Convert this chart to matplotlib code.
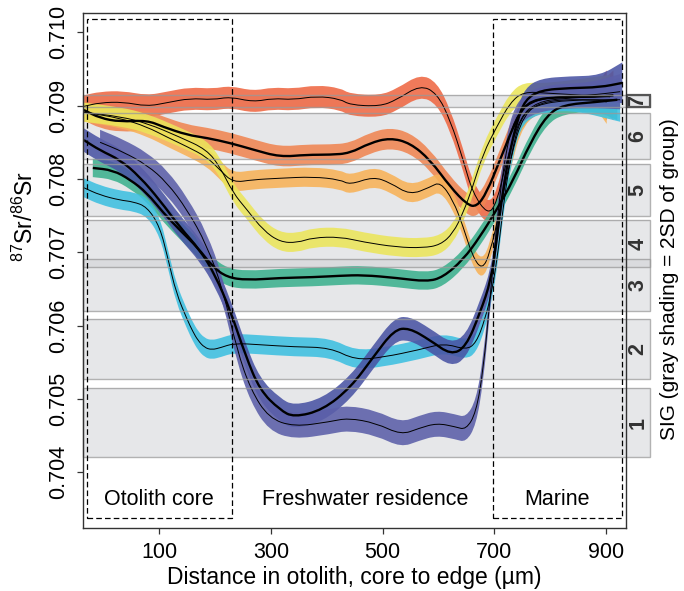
import numpy as np
import matplotlib
matplotlib.use('Agg')
import matplotlib.pyplot as plt
from matplotlib.patches import Rectangle, PathPatch
from matplotlib.path import Path

plt.rcParams['font.family'] = ['Liberation Sans', 'DejaVu Sans']
plt.rcParams['mathtext.default'] = 'regular'

# ---- data (distance in um, 87Sr/86Sr) ----
# group A: red, top curve (thin line)
xa = [-35, -6, 35, 78, 114, 155, 196, 227, 268, 304, 339, 382, 424, 441, 495, 525, 567, 597,
      621, 644, 661, 688, 704, 722, 746, 777, 823, 883, 901]
ya = [0.70899, 0.70904, 0.70905, 0.70899, 0.70904, 0.70910, 0.70908, 0.70912, 0.70905, 0.70910,
      0.70908, 0.70913, 0.70909, 0.70901, 0.70899, 0.70908, 0.70928, 0.70917, 0.70880, 0.70826,
      0.70781, 0.70751, 0.70767, 0.70826, 0.70885, 0.70905, 0.70910, 0.70912, 0.70914]

# group B: orange (thick line)
xb = [-35, -6, 30, 78, 107, 150, 185, 227, 268, 316, 364, 406, 441, 477, 513, 549, 585, 621,
      651, 668, 686, 710, 741, 764, 823, 883, 913]
yb = [0.70894, 0.70883, 0.70878, 0.70880, 0.70871, 0.70860, 0.70856, 0.70849, 0.70840, 0.70830,
      0.70833, 0.70833, 0.70835, 0.70849, 0.70856, 0.70849, 0.70826, 0.70789, 0.70765, 0.70762,
      0.70781, 0.70826, 0.70885, 0.70908, 0.70912, 0.70912, 0.70914]

# group C: light orange (thin line)
xc = [-35, 30, 78, 114, 150, 185, 209, 232, 268, 316, 375, 424, 441, 483, 513, 549, 585, 603,
      626, 644, 661, 678, 692, 710, 728, 752, 794, 883, 901]
yc = [0.70891, 0.70883, 0.70871, 0.70857, 0.70844, 0.70830, 0.70812, 0.70795, 0.70799, 0.70801,
      0.70803, 0.70799, 0.70792, 0.70803, 0.70795, 0.70778, 0.70789, 0.70796, 0.70771, 0.70735,
      0.70694, 0.70676, 0.70699, 0.70758, 0.70826, 0.70890, 0.70908, 0.70908, 0.70905]

# group D: yellow (thin line)
xd = [-35, 30, 78, 137, 185, 209, 232, 257, 286, 316, 347, 375, 424, 465, 525, 572, 603, 626,
      644, 661, 680, 704, 728, 752, 794, 907]
yd = [0.70891, 0.70885, 0.70876, 0.70857, 0.70840, 0.70816, 0.70781, 0.70758, 0.70730, 0.70714,
      0.70713, 0.70720, 0.70721, 0.70714, 0.70707, 0.70706, 0.70710, 0.70726, 0.70754, 0.70789,
      0.70835, 0.70871, 0.70904, 0.70919, 0.70917, 0.70912]

# group E: green (thick line)
xe = [-19, 17, 48, 78, 107, 137, 168, 196, 221, 257, 316, 375, 424, 465, 525, 579, 608, 644,
      674, 704, 734, 764, 794, 823, 883, 920]
ye = [0.70815, 0.70812, 0.70799, 0.70781, 0.70754, 0.70730, 0.70707, 0.70680, 0.70666, 0.70662,
      0.70665, 0.70666, 0.70668, 0.70669, 0.70665, 0.70660, 0.70666, 0.70690, 0.70721, 0.70758,
      0.70799, 0.70849, 0.70887, 0.70901, 0.70905, 0.70908]

# group F: cyan (thin line)
xf = [-35, -6, 30, 53, 78, 101, 116, 130, 150, 160, 169, 181, 194, 210, 234, 279, 341, 406,
      451, 502, 565, 610, 649, 667, 683, 696, 707, 717, 730, 746, 773, 835, 925]
yf = [0.70788, 0.70778, 0.70771, 0.70769, 0.70762, 0.70735, 0.70690, 0.70645, 0.70608, 0.70592,
      0.70580, 0.70570, 0.70567, 0.70570, 0.70576, 0.70574, 0.70571, 0.70570, 0.70553, 0.70557,
      0.70567, 0.70576, 0.70567, 0.70576, 0.70608, 0.70649, 0.70703, 0.70771, 0.70833, 0.70883,
      0.70901, 0.70908, 0.70908]

# group G: dark blue (thick line)
xg = [-35, -6, 30, 65, 101, 137, 173, 200, 227, 254, 280, 316, 341, 393, 443, 483, 520, 547,
      585, 622, 649, 674, 694, 704, 715, 728, 741, 755, 782, 835, 889, 929]
yg = [0.70853, 0.70839, 0.70826, 0.70803, 0.70771, 0.70734, 0.70703, 0.70669, 0.70621, 0.70560,
      0.70512, 0.70485, 0.70475, 0.70485, 0.70516, 0.70557, 0.70594, 0.70597, 0.70580, 0.70560,
      0.70571, 0.70617, 0.70662, 0.70717, 0.70785, 0.70839, 0.70880, 0.70908, 0.70921, 0.70924,
      0.70925, 0.70931]

# group H: slate blue, lowest (thin line)
xh = [-6, 35, 78, 114, 150, 185, 214, 239, 264, 296, 341, 406, 438, 488, 533, 565, 597, 630,
      649, 667, 680, 692, 703, 715, 731, 755, 799, 871, 925]
yh = [0.70850, 0.70837, 0.70819, 0.70795, 0.70758, 0.70710, 0.70649, 0.70567, 0.70512, 0.70474,
      0.70462, 0.70469, 0.70474, 0.70467, 0.70451, 0.70460, 0.70467, 0.70462, 0.70458, 0.70481,
      0.70540, 0.70635, 0.70730, 0.70812, 0.70874, 0.70901, 0.70912, 0.70914, 0.70919]

# half width of each band (2SD): along the curve, and at the fanned edge end
sd_mid = [0.000150, 0.000140, 0.000130, 0.000130, 0.000125, 0.000130, 0.000160, 0.000170]
sd_end = [0.00034, 0.00034, 0.00030, 0.00030, 0.00028, 0.00030, 0.00028, 0.00024]

colors = ['#ee6843', '#f08552', '#f8b257', '#ebe55a', '#3cb18e', '#3dc0e1', '#4a54a4', '#5b5fa9']
thick = [False, True, False, False, True, False, True, False]

# SIG groups (gray shading)
sig_labels = ['1', '2', '3', '4', '5', '6', '7']
sig_lo = [0.704206, 0.705275, 0.706199, 0.706795, 0.707495, 0.708268, 0.708985]
sig_hi = [0.705149, 0.706086, 0.706904, 0.707434, 0.708201, 0.708893, 0.709145]

xticks = [100, 300, 500, 700, 900]
yticks = [0.704, 0.705, 0.706, 0.707, 0.708, 0.709, 0.710]


def smooth_segments(px, py):
    # quadratic bezier through the midpoints, the knots act as control points
    verts = [(px[0], py[0]), ((px[0] + px[1]) / 2, (py[0] + py[1]) / 2)]
    codes = [Path.MOVETO, Path.LINETO]
    for k in range(1, len(px) - 1):
        verts += [(px[k], py[k]), ((px[k] + px[k + 1]) / 2, (py[k] + py[k + 1]) / 2)]
        codes += [Path.CURVE3, Path.CURVE3]
    verts.append((px[-1], py[-1]))
    codes.append(Path.LINETO)
    return verts, codes


def line_path(px, py):
    verts, codes = smooth_segments(px, py)
    return Path(verts, codes)


def band_path(px, py, sd):
    v1, c1 = smooth_segments(px, py + sd)
    v2, c2 = smooth_segments(px[::-1], (py - sd)[::-1])
    c2[0] = Path.LINETO
    verts = v1 + v2 + [v1[0]]
    codes = c1 + c2 + [Path.CLOSEPOLY]
    return Path(verts, codes)


fig = plt.figure(figsize=(6.84, 5.91), dpi=100)
ax = fig.add_axes([0.1218, 0.1066, 0.7930, 0.8719])
x0, x1 = -36, 935
ax.set_xlim(x0, x1)
ax.set_ylim(0.70324, 0.710267)
box_right = 978

for lo, hi, lab in zip(sig_lo, sig_hi, sig_labels):
    ax.add_patch(Rectangle((x0, lo), box_right - x0, hi - lo, facecolor='#cfd1d4',
                           alpha=0.5, edgecolor='none', zorder=0.5, clip_on=False))
    ax.add_patch(Rectangle((x0, lo), box_right - x0, hi - lo, fill=False,
                           edgecolor='#999999', lw=1.0, alpha=0.75, zorder=6, clip_on=False))
    ax.text(957, (lo + hi) / 2, lab, rotation=90, ha='center', va='center',
            fontsize=15.5, fontweight='bold', color='#333333', clip_on=False, zorder=7)
# dark frame round the "7"
ax.add_patch(Rectangle((937, sig_lo[6]), box_right - 937, sig_hi[6] - sig_lo[6], fill=False,
                       edgecolor='#555555', lw=1.6, zorder=7, clip_on=False))

groups = [(xa, ya), (xb, yb), (xc, yc), (xd, yd), (xe, ye), (xf, yf), (xg, yg), (xh, yh)]
for i, (gx, gy) in enumerate(groups):
    gx = np.array(gx, float)
    gy = np.array(gy, float)
    sd = np.full(len(gx), sd_mid[i])
    sd[-1] = sd_end[i]
    ax.add_patch(PathPatch(band_path(gx, gy, sd), facecolor=colors[i], edgecolor='none',
                           alpha=0.88, zorder=2 + i * 0.1))
for i, (gx, gy) in enumerate(groups):
    ax.add_patch(PathPatch(line_path(gx, gy), fill=False, edgecolor='black',
                           lw=1.7 if thick[i] else 0.7, zorder=4 + i * 0.1))

# dashed zones
dash = (0, (4.5, 2.5))
ax.add_patch(Rectangle((-29, 0.70337), 259, 0.71018 - 0.70337, fill=False, ls=dash,
                       lw=0.9, edgecolor='black', zorder=8, clip_on=False))
ax.add_patch(Rectangle((697, 0.70337), 232, 0.71018 - 0.70337, fill=False, ls=dash,
                       lw=0.9, edgecolor='black', zorder=8, clip_on=False))
ax.text(99, 0.70355, 'Otolith core', ha='center', va='baseline', fontsize=15.5, zorder=9)
ax.text(468, 0.70355, 'Freshwater residence', ha='center', va='baseline', fontsize=15.5, zorder=9)
ax.text(812, 0.70355, 'Marine', ha='center', va='baseline', fontsize=15.5, zorder=9)

ax.set_xticks(xticks)
ax.set_xticklabels([str(t) for t in xticks])
ax.set_yticks(yticks)
ax.set_yticklabels(['%.3f' % t for t in yticks], rotation=90, va='center')
ax.tick_params(direction='out', length=4, width=0.9, labelsize=15.5, pad=6, color='#333333')
for s in ax.spines.values():
    s.set_linewidth(1.0)
    s.set_color('#333333')
    s.set_zorder(10)

ax.set_xlabel('Distance in otolith, core to edge (\u00b5m)', fontsize=16.5, labelpad=2)
fig.text(0.037, 0.634, r'$^{87}$Sr/$^{86}$Sr', rotation=90, ha='center', va='center',
         fontsize=16.5)
fig.text(0.979, 0.527, 'SIG (gray shading = 2SD of group)', rotation=90, ha='center',
         va='center', fontsize=15)

fig.savefig('out.png', dpi=100)
